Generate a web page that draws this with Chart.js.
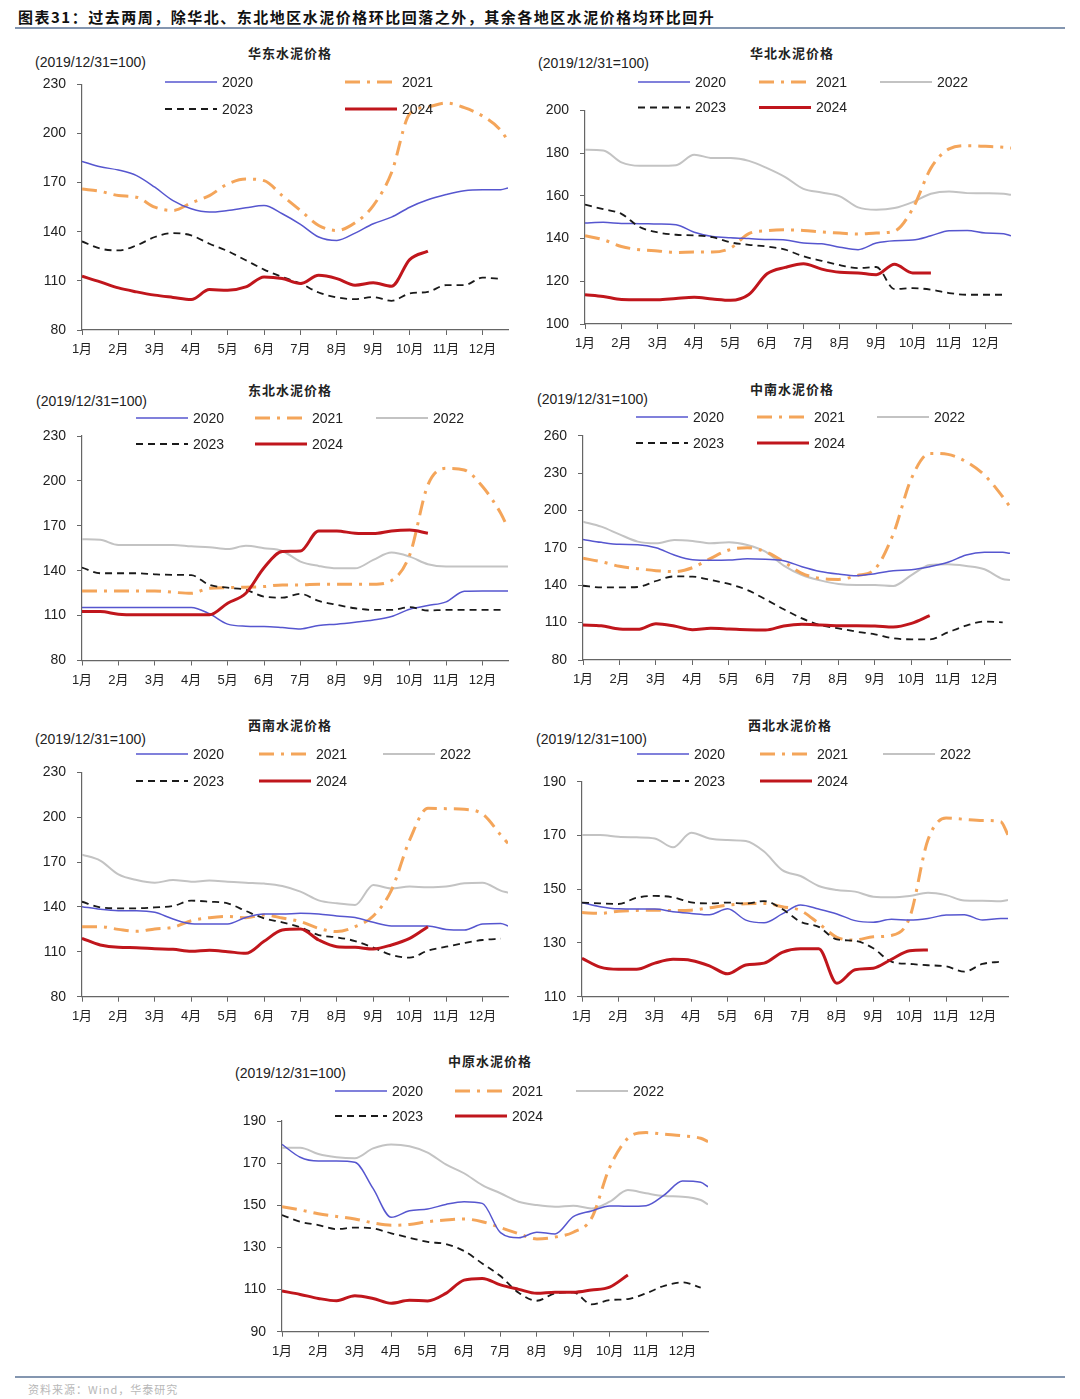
<!DOCTYPE html>
<html>
<head>
<meta charset="utf-8">
<script src="https://cdn.jsdelivr.net/npm/chart.js@4.4.1/dist/chart.umd.min.js"></script>
<style>
  body { margin: 0; background: #fff; width: 1080px; height: 1399px; position: relative; overflow: hidden;
         font-family: "Liberation Sans", "Noto Sans CJK SC", sans-serif; }
  .abs { position: absolute; white-space: nowrap; }
  #header { left: 18px; top: 8px; font: bold 15px "Noto Sans CJK SC"; letter-spacing: 1.5px; color: #111; line-height: 18px; }
  .rule { position: absolute; left: 15px; width: 1050px; background: #8496b0; }
  .ttl { font: bold 13px "Noto Sans CJK SC"; letter-spacing: 1px; color: #222; transform: translate(-50%, -50%); }
  .unit { font: 14px "Liberation Sans"; color: #222; transform: translateY(-50%); }
  .box { position: absolute; }
  #source { left: 28px; top: 1381px; font: 11px "Noto Sans CJK SC"; color: #b8b8b8; letter-spacing: 1px; }
</style>
</head>
<body>
<div id="header" class="abs">图表31：过去两周，除华北、东北地区水泥价格环比回落之外，其余各地区水泥价格均环比回升</div>
<div class="rule" style="top:27px;height:2px;"></div>
<div class="rule" style="top:1376px;height:2px;"></div>
<div id="source" class="abs">资料来源：Wind，华泰研究</div>

<script>
// x positions in months (0 = 1月), roughly half-month steps
const months = ['1月', '2月', '3月', '4月', '5月', '6月', '7月', '8月', '9月', '10月', '11月', '12月'];
const weekPos = [0, 0.5, 1, 1.5, 2, 2.5, 3, 3.5, 4, 4.5, 5, 5.5, 6, 6.5, 7, 7.5, 8, 8.5, 9, 9.5, 10, 10.5, 11, 11.5, 11.7];

// 华东
const hd2020 = [183.0, 179.7, 177.7, 174.3, 167.2, 159.0, 154.0, 152.0, 153.0, 154.6, 156.0, 151.0, 144.5, 136.8, 134.7, 139.2, 144.9, 148.9, 155.0, 159.5, 162.7, 165.1, 165.7, 165.7, 166.8];
const hd2021 = [166.1, 164.7, 162.1, 161.1, 155.0, 153.0, 157.6, 162.1, 169.2, 172.2, 171.2, 162.1, 153.0, 143.8, 140.8, 145.5, 156.0, 176.0, 212.0, 216.2, 218.6, 215.8, 210.7, 202.0, 195.5];
const hd2023 = [134.1, 129.7, 128.6, 131.7, 136.8, 139.2, 137.8, 132.7, 128.2, 122.6, 116.9, 112.4, 108.4, 102.9, 99.9, 98.8, 100.1, 97.8, 102.3, 103.3, 107.4, 107.4, 112.0, 111.2, null];
const hd2024 = [112.8, 109.4, 105.7, 103.3, 101.3, 99.9, 98.6, 104.7, 104.3, 106.3, 112.4, 111.4, 108.4, 113.4, 111.4, 107.4, 108.8, 106.7, 123.0, 128.2];

// 华北
const hb2020 = [147.3, 147.6, 147.1, 147.0, 146.8, 146.5, 143.0, 141.0, 140.4, 140.0, 139.6, 139.4, 137.9, 137.6, 136.0, 134.8, 137.9, 139.0, 139.3, 141.3, 143.7, 143.8, 142.6, 142.3, 141.3];
const hb2021 = [141.3, 139.5, 136.3, 134.8, 134.2, 133.5, 133.7, 133.7, 135.6, 142.3, 143.7, 144.1, 143.8, 143.1, 142.6, 142.1, 142.6, 143.5, 154.0, 173.0, 182.0, 183.5, 183.2, 182.8, 182.4];
const hb2022 = [181.6, 181.3, 175.7, 174.1, 174.1, 174.4, 179.3, 177.7, 177.7, 176.4, 173.0, 168.8, 163.3, 161.6, 159.8, 154.6, 153.5, 154.3, 157.1, 161.0, 162.1, 161.3, 161.2, 161.0, 160.5];
const hb2023 = [155.9, 153.8, 151.6, 145.4, 142.9, 141.8, 141.5, 140.7, 138.2, 137.1, 136.3, 134.8, 131.7, 129.6, 127.6, 126.2, 126.7, 116.4, 116.8, 116.1, 114.5, 113.7, 113.7, 113.7, null];
const hb2024 = [113.7, 112.9, 111.5, 111.4, 111.4, 112.0, 112.5, 111.7, 111.1, 113.8, 123.5, 126.5, 128.2, 125.7, 124.2, 123.9, 123.1, 128.0, 123.9, 123.9];

// 东北
const db2020 = [115.4, 115.4, 115.4, 115.4, 115.4, 115.4, 115.4, 111.2, 104.3, 102.9, 102.7, 102.0, 101.1, 103.4, 104.3, 105.6, 107.1, 109.4, 114.3, 116.7, 119.2, 126.3, 126.5, 126.5, 126.5];
const db2021 = [126.5, 126.5, 126.5, 126.5, 126.5, 125.6, 124.9, 128.3, 128.7, 129.0, 129.4, 130.5, 130.5, 131.0, 131.0, 131.0, 131.0, 133.4, 150.5, 197.3, 208.4, 207.3, 196.2, 178.4, 168.3];
const db2022 = [161.0, 160.6, 157.2, 157.2, 157.2, 157.2, 156.3, 155.7, 154.5, 156.6, 155.0, 153.2, 146.1, 143.2, 141.6, 141.6, 147.2, 152.1, 149.4, 144.3, 142.8, 142.8, 142.8, 142.8, 142.8];
const db2023 = [142.1, 138.3, 138.3, 138.3, 137.6, 137.2, 137.0, 130.5, 128.7, 127.2, 122.7, 122.0, 124.5, 119.8, 117.2, 114.9, 113.8, 113.8, 115.6, 113.4, 113.8, 113.8, 113.8, 113.8, null];
const db2024 = [112.7, 112.7, 110.9, 110.5, 110.5, 110.5, 110.5, 110.5, 118.3, 124.9, 142.0, 152.8, 153.2, 166.6, 166.6, 165.0, 164.8, 166.6, 167.2, 165.0];

// 中南
const zn2020 = [176.8, 174.4, 172.8, 172.5, 170.1, 164.3, 160.5, 160.0, 160.2, 161.3, 160.8, 159.7, 154.9, 151.1, 149.0, 147.7, 149.3, 151.7, 152.5, 154.9, 158.4, 164.3, 166.4, 166.4, 165.6];
const zn2021 = [161.6, 158.9, 155.2, 153.3, 151.7, 150.9, 154.1, 161.6, 168.3, 170.1, 166.9, 158.9, 149.5, 145.5, 144.7, 147.7, 153.0, 181.0, 225.8, 245.8, 245.0, 239.1, 228.4, 211.0, 203.0];
const zn2022 = [191.0, 187.0, 180.8, 175.0, 173.6, 176.3, 175.5, 173.6, 174.4, 172.3, 166.9, 155.7, 148.2, 143.9, 141.0, 140.2, 140.2, 139.4, 148.2, 156.2, 156.8, 155.4, 152.8, 145.0, 144.2];
const zn2023 = [139.6, 138.3, 138.3, 138.6, 143.4, 147.1, 146.9, 144.2, 141.0, 136.2, 128.7, 120.7, 113.4, 108.1, 105.4, 102.7, 100.6, 97.4, 96.6, 96.6, 102.2, 107.6, 110.8, 110.2, null];
const zn2024 = [108.1, 107.5, 104.9, 104.6, 109.1, 107.3, 104.3, 105.4, 104.9, 104.3, 104.1, 107.3, 108.6, 108.1, 107.5, 107.5, 107.3, 106.5, 109.4, 115.6];

// 西南
const xn2020 = [140.2, 138.4, 137.5, 137.5, 136.4, 131.9, 128.8, 128.6, 128.6, 133.0, 135.3, 135.3, 135.7, 135.3, 133.9, 133.0, 129.7, 127.3, 127.3, 127.3, 125.0, 124.6, 128.6, 129.0, 127.3];
const xn2021 = [126.8, 126.8, 125.0, 123.7, 125.3, 126.4, 130.8, 132.8, 133.7, 132.8, 134.6, 132.6, 130.2, 125.7, 123.5, 126.8, 133.9, 151.3, 184.8, 205.9, 205.7, 205.3, 202.1, 188.1, 182.5];
const xn2022 = [175.0, 171.0, 161.8, 158.0, 156.2, 158.0, 156.9, 157.6, 156.9, 156.2, 155.6, 154.0, 150.2, 144.4, 142.4, 141.3, 154.7, 152.4, 153.6, 153.1, 153.6, 155.8, 156.2, 150.9, 149.5];
const xn2023 = [143.5, 139.7, 139.1, 139.1, 139.7, 140.6, 144.2, 143.5, 142.4, 137.3, 132.4, 129.7, 126.4, 121.2, 119.7, 117.2, 112.8, 107.9, 106.1, 110.8, 113.4, 115.9, 117.9, 118.8, null];
const xn2024 = [119.0, 114.6, 113.0, 112.8, 112.1, 111.7, 110.3, 111.0, 110.1, 109.0, 117.0, 124.6, 125.3, 117.9, 113.4, 113.0, 111.9, 114.6, 119.0, 126.8];

// 西北
const xb2020 = [145.0, 143.5, 142.7, 142.6, 142.6, 141.6, 141.0, 140.5, 142.7, 138.5, 137.5, 140.8, 144.1, 142.6, 140.8, 138.3, 137.7, 138.8, 138.5, 139.1, 140.4, 140.5, 138.5, 139.1, 139.1];
const xb2021 = [141.3, 141.0, 141.8, 142.1, 142.2, 142.1, 142.2, 143.1, 144.1, 144.6, 144.7, 143.5, 142.1, 137.3, 132.1, 131.1, 132.3, 132.8, 139.5, 168.3, 176.5, 176.0, 175.6, 175.1, 170.2];
const xb2022 = [170.2, 170.2, 169.5, 169.3, 168.9, 165.6, 171.0, 168.9, 168.3, 167.9, 164.0, 157.1, 154.9, 151.2, 149.7, 149.1, 147.2, 147.0, 147.5, 148.7, 147.8, 145.8, 145.7, 145.5, 146.0];
const xb2023 = [145.0, 144.7, 144.5, 146.8, 147.5, 147.0, 145.1, 144.7, 145.0, 144.7, 145.6, 142.6, 137.9, 136.0, 131.3, 130.8, 128.0, 123.0, 122.2, 121.7, 121.3, 119.3, 122.2, 123.0, null];
const xb2024 = [124.3, 121.0, 120.2, 120.2, 122.5, 123.9, 123.5, 121.5, 118.5, 121.8, 122.5, 126.5, 127.8, 127.8, 115.0, 120.0, 120.6, 123.9, 127.1, 127.4];

// 中原
const zy2020 = [178.9, 172.8, 171.0, 171.0, 170.4, 158.0, 144.3, 147.4, 148.2, 150.4, 151.7, 150.9, 137.0, 134.6, 137.2, 136.4, 144.6, 147.3, 149.7, 149.5, 149.8, 154.9, 161.5, 160.9, 158.8];
const zy2021 = [149.3, 147.8, 146.0, 144.7, 143.5, 141.6, 140.5, 140.9, 142.2, 143.0, 143.5, 142.2, 139.4, 136.5, 134.0, 134.9, 137.2, 143.8, 168.0, 181.8, 184.5, 183.7, 183.0, 181.8, 180.2];
const zy2022 = [177.3, 177.3, 174.3, 172.8, 172.3, 177.0, 178.9, 178.0, 175.0, 169.4, 165.2, 159.6, 155.7, 151.7, 150.1, 149.3, 149.8, 148.5, 151.7, 157.2, 155.7, 154.4, 154.1, 152.5, 150.4];
const zy2023 = [145.4, 142.2, 140.6, 138.7, 139.4, 139.0, 136.7, 134.6, 132.6, 131.6, 128.3, 122.4, 116.4, 108.5, 104.7, 108.2, 108.7, 103.0, 105.0, 105.5, 108.2, 111.8, 113.4, 110.9, null];
const zy2024 = [109.3, 107.7, 105.8, 104.7, 107.1, 105.8, 103.5, 104.9, 104.6, 108.2, 114.5, 115.3, 112.2, 110.1, 108.2, 108.7, 108.7, 109.8, 111.2, 116.9];

// styles per year
const lineStyle = {
  '2020': { borderColor: '#5656cf', borderWidth: 1.5, borderDash: [] },
  '2021': { borderColor: '#f4a55a', borderWidth: 3, borderDash: [15, 7, 3, 7] },
  '2022': { borderColor: '#c3c3c3', borderWidth: 2, borderDash: [] },
  '2023': { borderColor: '#1a1a1a', borderWidth: 1.8, borderDash: [7, 5] },
  '2024': { borderColor: '#c0161c', borderWidth: 3, borderDash: [] }
};
const drawOrder = { '2024': 0, '2023': 1, '2020': 2, '2021': 3, '2022': 4 };
const legendSlot = { '2020': [0, 0], '2021': [1, 0], '2022': [2, 0], '2023': [0, 1], '2024': [1, 1] };

// panel layout (page px)
const panels = [
  { title: '华东水泥价格', series: { '2020': hd2020, '2021': hd2021, '2023': hd2023, '2024': hd2024 },
    yMin: 80, yMax: 230, yStep: 30, box: [15, 65, 505, 300], plot: [82, 83, 508, 330],
    titleAt: [290, 52], unitAt: [35, 61.5], cols: [165, 345], rows: [82, 109] },
  { title: '华北水泥价格', series: { '2020': hb2020, '2021': hb2021, '2022': hb2022, '2023': hb2023, '2024': hb2024 },
    yMin: 100, yMax: 200, yStep: 20, box: [525, 65, 505, 300], plot: [585, 110.5, 1011, 324],
    titleAt: [792, 52], unitAt: [538, 63], cols: [638, 759, 880], rows: [82, 107.5] },
  { title: '东北水泥价格', series: { '2020': db2020, '2021': db2021, '2022': db2022, '2023': db2023, '2024': db2024 },
    yMin: 80, yMax: 230, yStep: 30, box: [15, 400, 505, 300], plot: [82, 436, 508, 660.5],
    titleAt: [290, 389], unitAt: [36, 401], cols: [136, 255, 376], rows: [418, 444] },
  { title: '中南水泥价格', series: { '2020': zn2020, '2021': zn2021, '2022': zn2022, '2023': zn2023, '2024': zn2024 },
    yMin: 80, yMax: 260, yStep: 30, box: [525, 400, 505, 300], plot: [583, 435.7, 1010, 660],
    titleAt: [792, 388], unitAt: [537, 399], cols: [636, 757, 877], rows: [417, 443] },
  { title: '西南水泥价格', series: { '2020': xn2020, '2021': xn2021, '2022': xn2022, '2023': xn2023, '2024': xn2024 },
    yMin: 80, yMax: 230, yStep: 30, box: [15, 735, 505, 300], plot: [82, 772.3, 508, 996.7],
    titleAt: [290, 724], unitAt: [35, 739], cols: [136, 259, 383], rows: [754, 781] },
  { title: '西北水泥价格', series: { '2020': xb2020, '2021': xb2021, '2022': xb2022, '2023': xb2023, '2024': xb2024 },
    yMin: 110, yMax: 190, yStep: 20, box: [525, 735, 505, 300], plot: [582, 781.7, 1008, 996.7],
    titleAt: [790, 724], unitAt: [536, 739], cols: [637, 760, 883], rows: [754, 781] },
  { title: '中原水泥价格', series: { '2020': zy2020, '2021': zy2021, '2022': zy2022, '2023': zy2023, '2024': zy2024 },
    yMin: 90, yMax: 190, yStep: 20, box: [215, 1070, 505, 300], plot: [282, 1121, 708, 1331.7],
    titleAt: [490, 1060], unitAt: [235, 1073], cols: [335, 455, 576], rows: [1091, 1116] }
];

const Y_W = 45, X_H = 30;
const axisColor = '#666';

function addText(cls, text, x, y) {
  const d = document.createElement('div');
  d.className = 'abs ' + cls;
  d.textContent = text;
  d.style.left = x + 'px';
  d.style.top = y + 'px';
  document.body.appendChild(d);
}

// draws the two-row legend at fixed spots, using each dataset's own style
function legendPlugin(p) {
  return {
    id: 'rowLegend',
    afterDraw(chart) {
      const ctx = chart.ctx;
      const [bx, by] = p.box;
      ctx.save();
      chart.data.datasets.forEach(ds => {
        const [c, r] = legendSlot[ds.label];
        const x0 = p.cols[c] - bx, y = p.rows[r] - by;
        ctx.strokeStyle = ds.borderColor;
        ctx.lineWidth = ds.borderWidth;
        ctx.setLineDash(ds.borderDash);
        ctx.beginPath();
        ctx.moveTo(x0, y);
        ctx.lineTo(x0 + 52, y);
        ctx.stroke();
        ctx.setLineDash([]);
        ctx.fillStyle = '#222';
        ctx.font = '14px "Liberation Sans"';
        ctx.textBaseline = 'middle';
        ctx.fillText(ds.label, x0 + 57, y + 1);
      });
      ctx.restore();
    }
  };
}

panels.forEach(p => {
  const [bx, by, bw, bh] = p.box;
  const [l, t, r, b] = p.plot;
  addText('ttl', p.title, p.titleAt[0], p.titleAt[1]);
  addText('unit', '(2019/12/31=100)', p.unitAt[0], p.unitAt[1]);

  const div = document.createElement('div');
  div.className = 'box';
  Object.assign(div.style, { left: bx + 'px', top: by + 'px', width: bw + 'px', height: bh + 'px' });
  const cv = document.createElement('canvas');
  div.appendChild(cv);
  document.body.appendChild(div);

  const datasets = Object.keys(p.series).map(yr => ({
    label: yr,
    data: p.series[yr].map((v, i) => ({ x: weekPos[i], y: v })),
    ...lineStyle[yr],
    order: drawOrder[yr],
    pointRadius: 0,
    fill: false,
    cubicInterpolationMode: 'monotone',
    borderCapStyle: 'butt',
    borderJoinStyle: 'round'
  }));

  new Chart(cv, {
    type: 'line',
    data: { datasets },
    options: {
      responsive: true,
      maintainAspectRatio: false,
      animation: false,
      layout: { padding: { left: l - bx - Y_W, top: t - by, right: bx + bw - r, bottom: by + bh - b - X_H } },
      plugins: { legend: { display: false }, tooltip: { enabled: false } },
      scales: {
        x: {
          type: 'linear', min: 0, max: 11.7,
          afterFit(s) { s.height = X_H; },
          afterBuildTicks(s) { s.ticks = months.map((m, i) => ({ value: i })); },
          ticks: {
            callback: v => months[v], autoSkip: false, maxRotation: 0, padding: 7,
            color: '#222', font: { family: '"Liberation Sans", "Noto Sans CJK SC"', size: 13 }
          },
          grid: { drawOnChartArea: false, drawTicks: true, tickLength: 5, color: axisColor },
          border: { color: axisColor, width: 1.2 }
        },
        y: {
          min: p.yMin, max: p.yMax,
          afterFit(s) { s.width = Y_W; },
          ticks: { stepSize: p.yStep, padding: 11, color: '#222', font: { family: '"Liberation Sans"', size: 14 } },
          grid: { drawOnChartArea: false, drawTicks: true, tickLength: 5, color: axisColor },
          border: { color: axisColor, width: 1.2 }
        }
      }
    },
    plugins: [legendPlugin(p)]
  });
});
</script>
</body>
</html>
